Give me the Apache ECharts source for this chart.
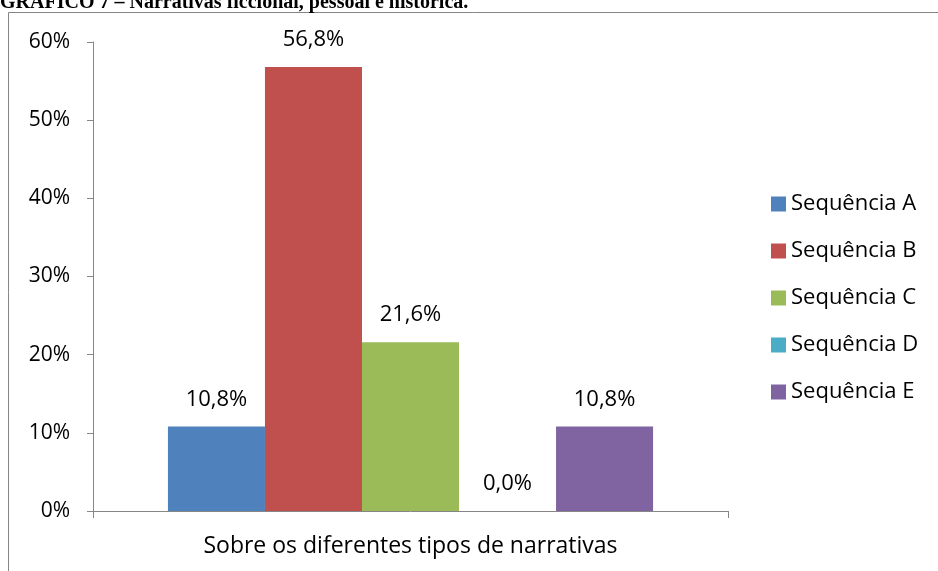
<!DOCTYPE html>
<html>
<head>
<meta charset="utf-8">
<script src="https://cdn.jsdelivr.net/npm/echarts@6/dist/echarts.min.js"></script>
<style>
  html, body { margin: 0; padding: 0; background: #fff; }
  #chart { width: 938px; height: 571px; }
</style>
</head>
<body>
<div id="chart"></div>
<script>
// dados do gráfico
const categories = ['Sobre os diferentes tipos de narrativas'];
const seriesNames = ['Sequência A', 'Sequência B', 'Sequência C', 'Sequência D', 'Sequência E'];
const seriesValues = [10.8, 56.8, 21.6, 0.0, 10.8];
const seriesColors = ['#4F81BD', '#C0504D', '#9BBB59', '#4BACC6', '#8064A2'];
const yTicks = [0, 10, 20, 30, 40, 50, 60];

const fontFamily = '"Open Sans", "Noto Sans", sans-serif';
const axisColor = '#868686';

let chartDom = document.getElementById('chart');
let myChart = echarts.init(chartDom);

const series = seriesNames.map((name, i) => ({
  name: name,
  type: 'bar',
  data: [seriesValues[i]],
  barGap: '0%',
  barCategoryGap: '23.6%',
  itemStyle: { color: seriesColors[i] },
  label: {
    show: true,
    position: 'top',
    distance: 16,
    color: '#000',
    fontFamily: fontFamily,
    fontSize: 22,
    formatter: (p) => p.value.toFixed(1).replace('.', ',') + '%',
  },
}));

var option = {
  animation: false,
  textStyle: { fontFamily: fontFamily },
  graphic: [
    {
      type: 'rect',
      shape: { x: 8.5, y: 12.5, width: 1000, height: 1000 },
      style: { fill: 'none', stroke: axisColor, lineWidth: 1 },
      silent: true,
    },
    {
      type: 'text',
      left: 0,
      top: -7,
      style: {
        text: 'GRÁFICO 7 – Narrativas ficcional, pessoal e histórica.',
        font: 'bold 20px "Liberation Serif", "DejaVu Serif", serif',
        fill: '#000',
      },
    },
  ],
  legend: {
    orient: 'vertical',
    left: 771,
    top: 193,
    padding: 0,
    itemWidth: 15,
    itemHeight: 15,
    itemGap: 25,
    icon: 'rect',
    textStyle: { fontSize: 22, color: '#000', fontFamily: fontFamily },
    data: seriesNames,
  },
  grid: {
    left: 93,
    right: 210,
    top: 42,
    bottom: 60,
  },
  xAxis: {
    type: 'category',
    data: categories,
    axisLine: { lineStyle: { color: axisColor, width: 1 } },
    axisTick: { show: true, length: 7, lineStyle: { color: axisColor } },
    axisLabel: { color: '#000', fontSize: 23, margin: 24, fontFamily: fontFamily },
  },
  yAxis: {
    type: 'value',
    min: yTicks[0],
    max: yTicks[yTicks.length - 1],
    interval: 10,
    splitLine: { show: false },
    axisLine: { show: true, lineStyle: { color: axisColor, width: 1 } },
    axisTick: { show: true, length: 6, lineStyle: { color: axisColor } },
    axisLabel: {
      color: '#000',
      fontSize: 21,
      margin: 23,
      fontFamily: fontFamily,
      formatter: '{value}%',
    },
  },
  series: series,
};

option && myChart.setOption(option);
</script>
</body>
</html>
